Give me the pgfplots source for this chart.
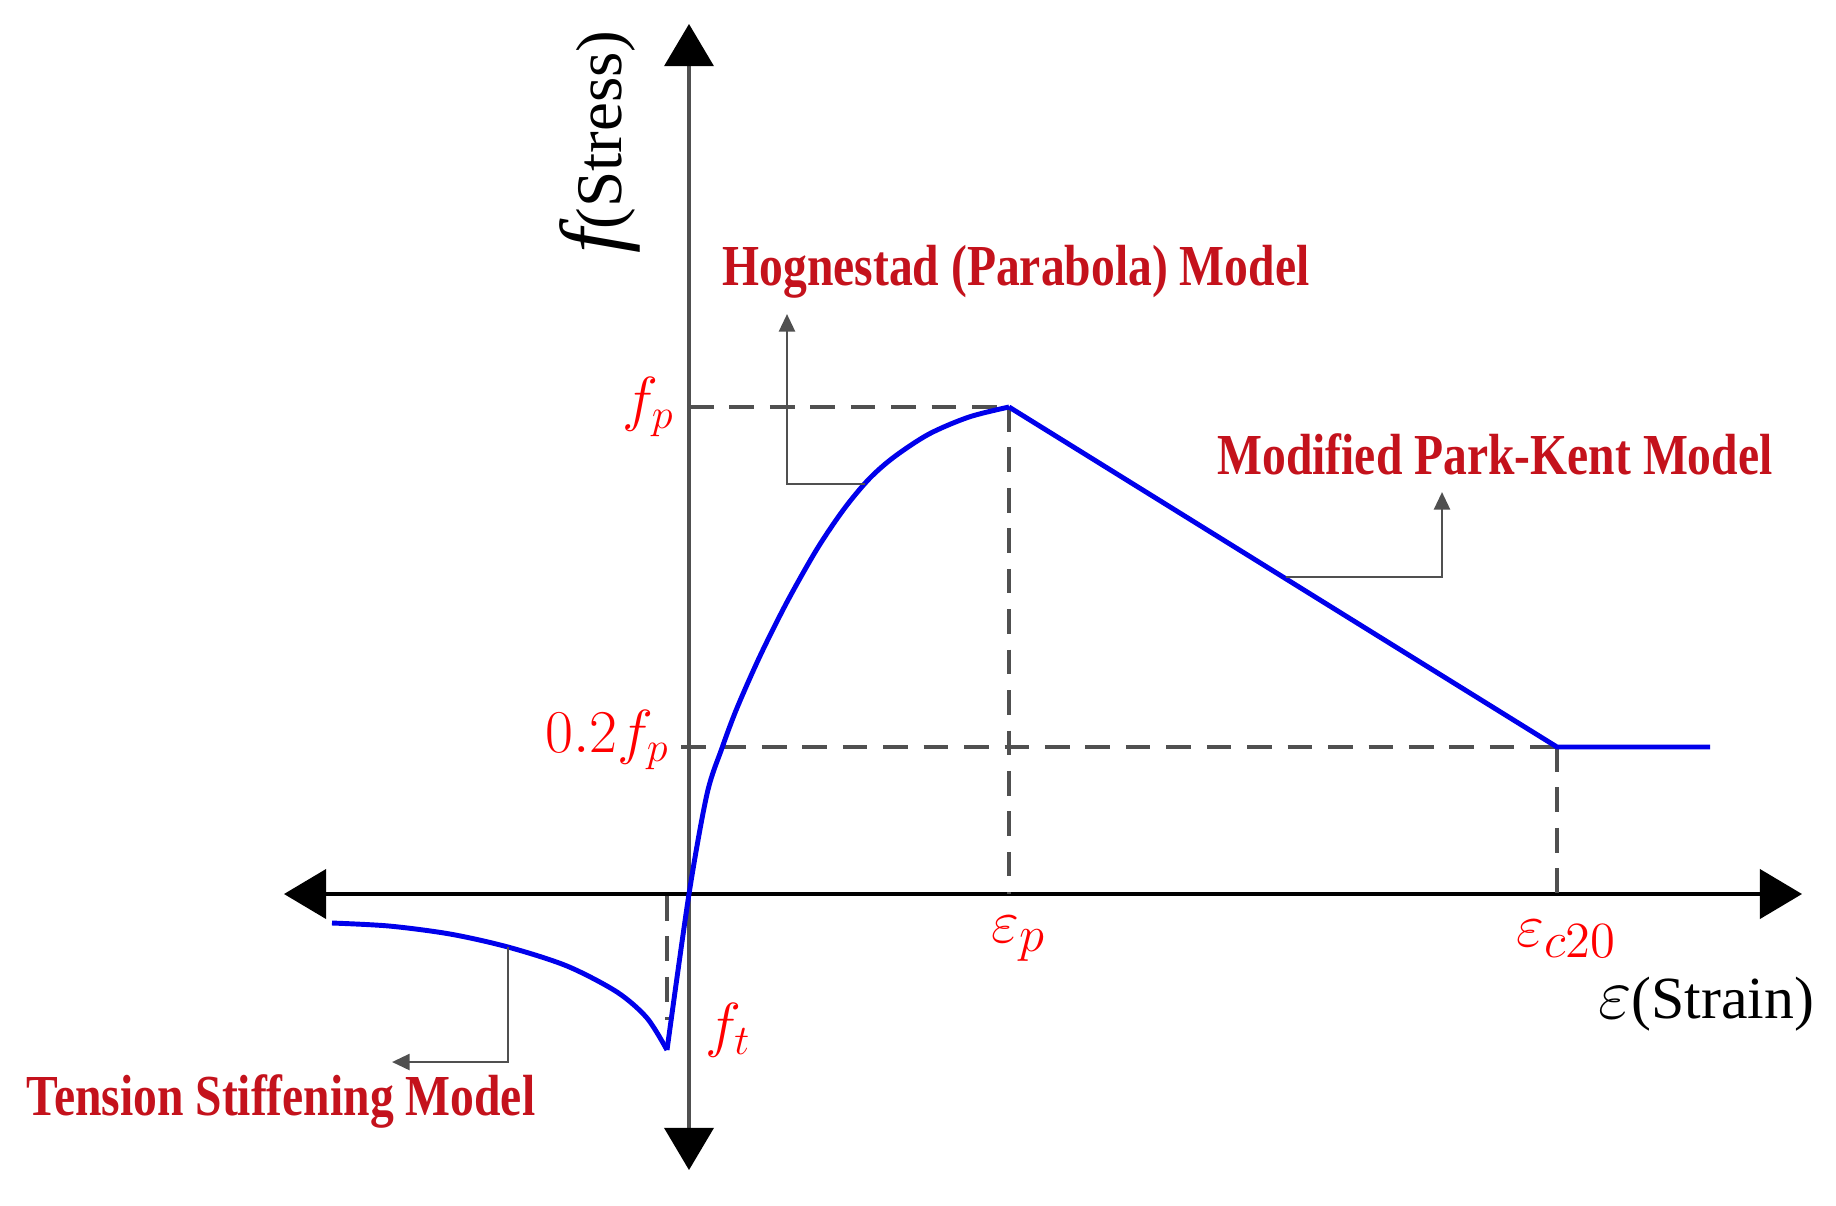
\documentclass[border=0pt]{standalone}
\usepackage{fontspec}
\setmainfont{Liberation Serif}
\usepackage{pgfplots}
\pgfplotsset{compat=1.18}
\usetikzlibrary{arrows.meta}

\definecolor{curve}{RGB}{0,0,235}
\definecolor{lbl}{RGB}{255,0,0}
\definecolor{model}{RGB}{196,18,28}
\definecolor{guide}{RGB}{80,80,80}

\tikzset{
  bigtip/.tip={Triangle[length=12pt,width=14pt,color=black]},
  smalltip/.tip={Triangle[length=5pt,width=4.5pt]},
  guideline/.style={guide, line width=0.9pt, dash pattern=on 7pt off 4.5pt},
  callout/.style={guide, line width=0.8pt, -smalltip},
  modeltxt/.style={text=model, font=\fontsize{16.5}{16.5}\selectfont\bfseries, xscale=0.82, inner sep=0pt},
  redtxt/.style={text=lbl, font=\fontsize{17}{17}\selectfont, inner sep=0pt},
  redeps/.style={text=lbl, font=\fontsize{19}{19}\selectfont, inner sep=0pt},
}

\begin{document}
\begin{tikzpicture}
\begin{axis}[
  x=0.01cm, y=0.01cm,
  xmin=-405, xmax=1113, ymin=-276, ymax=870,
  axis lines=middle,
  separate axis lines,
  x axis line style={black, line width=1.1pt, bigtip-bigtip},
  y axis line style={guide, line width=0.9pt, bigtip-bigtip},
  xtick=\empty, ytick=\empty,
  clip=false,
]
% guide lines
\addplot[guideline] coordinates {(0,487) (320,487)};
\addplot[guideline] coordinates {(320,487) (320,0)};
\addplot[guideline] coordinates {(-8,147) (868,147)};
\addplot[guideline] coordinates {(868,147) (868,0)};
\addplot[guideline] coordinates {(-22,-2) (-22,-126)};

% tension stiffening
\addplot[curve, line width=1.4pt, smooth] coordinates {
  (-357,-29) (-300,-32) (-239,-40) (-181,-53) (-122,-72) (-72,-98) (-42,-124) (-22,-156)};
% Hognestad parabola
\addplot[curve, line width=1.4pt, smooth] coordinates {
  (-22,-156) (0,0) (18,100) (33,146) (48,186) (71,238) (98,292) (128,345)
  (155,385) (180,415) (205,437) (240,460) (280,477) (320,487)};
% modified Park-Kent
\addplot[curve, line width=1.4pt] coordinates {(320,487) (868,147) (1021,147)};

% callouts
\draw[callout] (axis cs:176,410) -- (axis cs:98,410) -- (axis cs:98,580);
\draw[callout] (axis cs:597,317) -- (axis cs:753,317) -- (axis cs:753,402);
\draw[callout] (axis cs:-181,-53) -- (axis cs:-181,-168) -- (axis cs:-297,-168);

% labels
\node[modeltxt] at (axis cs:327,622) {Hognestad (Parabola) Model};
\node[modeltxt] at (axis cs:806,440) {Modified Park-Kent Model};
\node[modeltxt] at (axis cs:-408,-207) {Tension Stiffening Model};

\node[redtxt, anchor=east] at (axis cs:-14,487) {$f_p$};
\node[redtxt, anchor=east] at (axis cs:-19,154) {$0.2f_p$};
\node[redeps] at (axis cs:330,-45) {$\varepsilon_p$};
\node[redeps] at (axis cs:878,-45) {$\varepsilon_{c20}$};
\node[redtxt] at (axis cs:39,-136) {$f_t$};

\node[inner sep=0pt] at (axis cs:1017,-110)
  {{\fontsize{20}{20}\selectfont$\varepsilon$}{\fontsize{17}{17}\selectfont(Strain)}};
\node[inner sep=0pt, rotate=90] at (axis cs:-89,752)
  {{\fontsize{25}{25}\selectfont\itshape f}{\fontsize{18.5}{18.5}\selectfont(Stress)}};

\coordinate (BL) at (axis cs:-689,-311);
\coordinate (TR) at (axis cs:1147,894);
\end{axis}
\pgfresetboundingbox
\path (BL) rectangle (TR);
\end{tikzpicture}
\end{document}
